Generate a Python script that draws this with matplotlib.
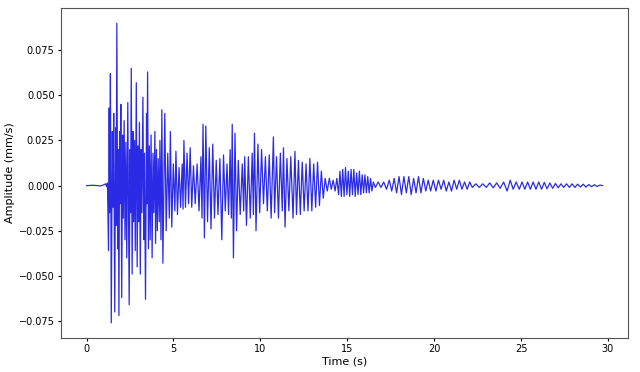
import numpy as np
import matplotlib
matplotlib.use('Agg')
import matplotlib.pyplot as plt

# extremes, time in s, amplitude in mm/s
t_onset = [0.00, 0.40, 0.80, 1.00, 1.10, 1.15, 1.20]
a_onset = [0.0, 0.0002, -0.0002, 0.0005, 0.0010, -0.0006, 0.0015]

t_strong = [1.26, 1.30, 1.33, 1.37, 1.42, 1.48, 1.52, 1.56, 1.62, 1.67, 1.70, 1.74,
            1.79, 1.82, 1.86, 1.90, 1.93, 1.97, 2.02, 2.07, 2.11, 2.16, 2.21, 2.26,
            2.31, 2.37, 2.45, 2.50, 2.53, 2.57, 2.62, 2.67, 2.71, 2.76, 2.80, 2.86,
            2.91, 2.96, 3.00, 3.04, 3.09, 3.14, 3.18, 3.24, 3.29, 3.33, 3.39, 3.45,
            3.47, 3.51, 3.56, 3.61, 3.66, 3.71, 3.77, 3.82, 3.87, 3.93, 3.97, 4.02,
            4.07, 4.12, 4.18, 4.22, 4.28, 4.33, 4.39]
a_strong = [-0.036, 0.043, -0.015, 0.062, -0.076, 0.030, -0.012, 0.040, -0.070, 0.032, -0.022, 0.090,
            -0.035, 0.020, -0.072, 0.030, -0.010, 0.045, -0.062, 0.028, -0.018, 0.036, -0.030, 0.024,
            -0.040, 0.046, -0.066, 0.020, -0.015, 0.065, -0.049, 0.030, -0.020, 0.025, -0.036, 0.057,
            -0.045, 0.022, -0.020, 0.035, -0.049, 0.020, -0.015, 0.049, -0.030, 0.018, -0.063, 0.040,
            -0.010, 0.063, -0.035, 0.022, -0.030, 0.028, -0.040, 0.018, -0.015, 0.030, -0.032, 0.020,
            -0.025, 0.015, -0.020, 0.025, -0.030, 0.042, -0.043]

t_coda = [4.50, 4.58, 4.67, 4.76, 4.82, 4.90, 4.99, 5.08, 5.14, 5.23, 5.32, 5.41,
          5.50, 5.55, 5.60, 5.69, 5.78, 5.87, 5.96, 6.05, 6.15, 6.25, 6.36, 6.47,
          6.58, 6.64, 6.70, 6.78, 6.86, 6.96, 7.06, 7.16, 7.26, 7.36, 7.46, 7.56,
          7.67, 7.78, 7.88, 7.98, 8.08, 8.17, 8.26, 8.33, 8.38, 8.45, 8.54, 8.63,
          8.73, 8.84, 8.96, 9.04, 9.10, 9.20, 9.31, 9.42, 9.53, 9.60, 9.66, 9.75,
          9.86, 9.96, 10.07, 10.18, 10.29, 10.40, 10.51, 10.62, 10.75, 10.82, 10.93, 11.04,
          11.15, 11.26, 11.33, 11.42, 11.53, 11.64, 11.75, 11.88, 11.99, 12.08, 12.19, 12.30,
          12.41, 12.52, 12.63, 12.74, 12.85, 12.96, 13.07, 13.18, 13.29, 13.40, 13.51, 13.62,
          13.73, 13.85]
a_coda = [0.040, -0.025, 0.018, -0.018, 0.030, -0.023, 0.012, -0.014, 0.019, -0.016, 0.010, -0.012,
          0.012, -0.013, 0.025, -0.012, 0.018, -0.010, 0.021, -0.012, 0.011, -0.010, 0.012, -0.014,
          0.016, -0.018, 0.034, -0.029, 0.033, -0.020, 0.021, -0.024, 0.023, -0.018, 0.014, -0.016,
          0.015, -0.030, 0.017, -0.014, 0.012, -0.016, 0.020, -0.018, 0.034, -0.040, 0.029, -0.025,
          0.014, -0.016, 0.012, -0.014, 0.016, -0.022, 0.016, -0.018, 0.018, -0.016, 0.029, -0.025,
          0.023, -0.015, 0.020, -0.010, 0.016, -0.014, 0.017, -0.018, 0.027, -0.015, 0.016, -0.018,
          0.018, -0.014, 0.021, -0.023, 0.015, -0.014, 0.016, -0.018, 0.019, -0.016, 0.014, -0.016,
          0.013, -0.014, 0.012, -0.014, 0.015, -0.014, 0.012, -0.012, 0.013, -0.011, 0.008, -0.007,
          0.004, -0.003]

t_tail = [13.97, 14.08, 14.19, 14.30, 14.40, 14.50, 14.58, 14.66, 14.74, 14.82, 14.90, 14.98,
          15.06, 15.14, 15.22, 15.30, 15.38, 15.46, 15.54, 15.62, 15.70, 15.78, 15.86, 15.94,
          16.02, 16.10, 16.18, 16.26, 16.34, 16.42, 16.50, 16.62, 16.78, 16.94, 17.10, 17.26,
          17.42, 17.56, 17.70, 17.84, 17.98, 18.12, 18.26, 18.40, 18.54, 18.68, 18.82, 18.96,
          19.10, 19.24, 19.38, 19.52, 19.66, 19.80, 19.95, 20.10, 20.25, 20.40, 20.55, 20.70,
          20.85, 21.00, 21.15, 21.30, 21.45, 21.60, 21.75, 21.90, 22.05, 22.20, 22.40, 22.60,
          22.80, 23.00, 23.20, 23.40, 23.60, 23.80, 24.00, 24.20, 24.38, 24.55, 24.72, 24.90,
          25.06, 25.22, 25.38, 25.54, 25.70, 25.86, 26.02, 26.18, 26.34, 26.50, 26.66, 26.82,
          26.98, 27.14, 27.30, 27.46, 27.62, 27.78, 27.94, 28.10, 28.26, 28.42, 28.58, 28.74,
          28.90, 29.06, 29.22, 29.38, 29.54, 29.70]
a_tail = [0.004, -0.002, 0.003, -0.003, 0.004, -0.005, 0.008, -0.006, 0.009, -0.006, 0.010, -0.005,
          0.008, -0.006, 0.009, -0.005, 0.009, -0.006, 0.007, -0.005, 0.008, -0.005, 0.006, -0.004,
          0.006, -0.004, 0.005, -0.004, 0.004, -0.003, 0.002, -0.001, 0.002, -0.001, 0.002, -0.002,
          0.003, -0.003, 0.004, -0.004, 0.005, -0.005, 0.005, -0.004, 0.005, -0.005, 0.004, -0.004,
          0.005, -0.004, 0.004, -0.003, 0.003, -0.003, 0.003, -0.003, 0.003, -0.002, 0.003, -0.003,
          0.002, -0.003, 0.003, -0.002, 0.003, -0.002, 0.002, -0.002, 0.002, -0.001, 0.001, -0.001,
          0.001, -0.001, 0.0015, -0.0012, 0.0015, -0.0015, 0.002, -0.003, 0.003, -0.002, 0.002, -0.002,
          0.002, -0.002, 0.002, -0.002, 0.002, -0.002, 0.002, -0.002, 0.0018, -0.0018, 0.0015, -0.0015,
          0.0012, -0.0012, 0.001, -0.001, 0.001, -0.001, 0.001, -0.001, 0.0008, -0.0008, 0.0008, -0.0008,
          0.0006, -0.0006, 0.0005, -0.0005, 0.0003, 0.0]

time_s = np.concatenate([t_onset, t_strong, t_coda, t_tail])
amp = np.concatenate([a_onset, a_strong, a_coda, a_tail])

fig, ax = plt.subplots(figsize=(6.4, 3.72), dpi=100)
fig.subplots_adjust(left=0.095, right=0.982, top=0.978, bottom=0.092)

ax.plot(time_s, amp, color='#2b2be6', lw=0.9)
ax.set_xlabel('Time (s)', fontsize=8, labelpad=1.5)
ax.set_ylabel('Amplitude (mm/s)', fontsize=8, labelpad=3)
ax.tick_params(labelsize=7, length=2.5, pad=2)
ax.set_xticks([0, 5, 10, 15, 20, 25, 30])
ax.set_yticks([-0.075, -0.050, -0.025, 0.0, 0.025, 0.050, 0.075])
for sp in ax.spines.values():
    sp.set_color('#555555')

fig.savefig('out.png', dpi=100)
